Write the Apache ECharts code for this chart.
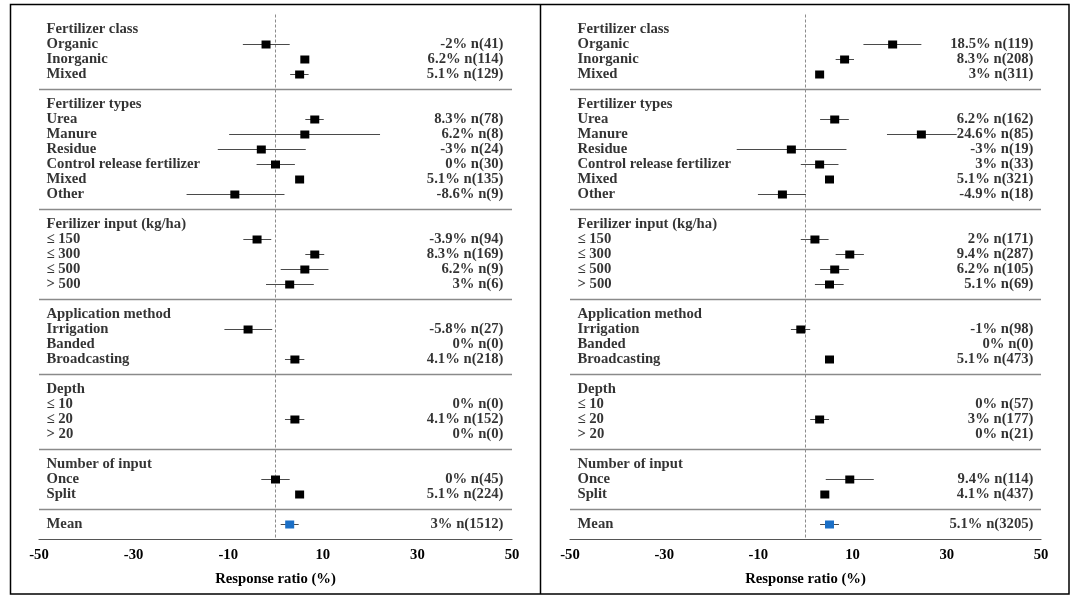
<!DOCTYPE html>
<html>
<head>
<meta charset="utf-8">
<script src="https://cdn.jsdelivr.net/npm/echarts@6/dist/echarts.min.js"></script>
<style>
html,body{margin:0;padding:0;background:#fff;}
#chart{width:1089px;height:597px;}
</style>
</head>
<body>
<div id="chart"></div>
<script>
// Row labels (slot index = row position; '' = group separator)
const rows = ['Fertilizer class','Organic','Inorganic','Mixed','',
  'Fertilizer types','Urea','Manure','Residue','Control release fertilizer','Mixed','Other','',
  'Ferilizer input (kg/ha)','\u2264 150','\u2264 300','\u2264 500','> 500','',
  'Application method','Irrigation','Banded','Broadcasting','',
  'Depth','\u2264 10','\u2264 20','> 20','',
  'Number of input','Once','Split','',
  'Mean'];
const separators = [4, 12, 18, 23, 28, 32];
const meanRow = 33;
const xTickLabels = [-50, -30, -10, 10, 30, 50];

// Left panel
const leftEffect = [null,-2,6.2,5.1,null, null,8.3,6.2,-3,0,5.1,-8.6,null, null,-3.9,8.3,6.2,3,null, null,-5.8,0,4.1,null, null,0,4.1,0,null, null,0,5.1,null, 3];
const leftN      = [null,41,114,129,null, null,78,8,24,30,135,9,null, null,94,169,9,6,null, null,27,0,218,null, null,0,152,0,null, null,45,224,null, 1512];
const leftLow    = [null,-6.9,5.7,3.1,null, null,6.3,-9.8,-12.2,-4.0,4.6,-18.8,null, null,-6.8,6.3,1.1,-2.0,null, null,-10.8,null,2.0,null, null,null,2.0,null,null, null,-3.0,4.6,null, 1.1];
const leftHigh   = [null,3.0,6.7,7.0,null, null,10.2,22.1,6.4,4.1,5.6,1.9,null, null,-0.9,10.3,11.2,8.1,null, null,-0.7,null,6.1,null, null,null,6.1,null,null, null,3.0,5.6,null, 4.9];

// Right panel
const rightEffect = [null,18.5,8.3,3,null, null,6.2,24.6,-3,3,5.1,-4.9,null, null,2,9.4,6.2,5.1,null, null,-1,0,5.1,null, null,0,3,0,null, null,9.4,4.1,null, 5.1];
const rightN      = [null,119,208,311,null, null,162,85,19,33,321,18,null, null,171,287,105,69,null, null,98,0,473,null, null,57,177,21,null, null,114,437,null, 3205];
const rightLow    = [null,12.3,6.4,2.5,null, null,3.1,17.3,-14.6,-1.0,4.6,-10.1,null, null,-1.0,6.4,3.1,2.0,null, null,-3.1,null,4.6,null, null,null,1.0,null,null, null,4.3,3.6,null, 3.1];
const rightHigh   = [null,24.6,10.3,3.5,null, null,9.2,32.1,8.7,7.0,5.6,0.1,null, null,4.9,12.4,9.2,8.1,null, null,1.0,null,5.6,null, null,null,5.0,null,null, null,14.5,4.6,null, 7.1];

const FONT = {fontFamily: 'Liberation Serif', fontWeight: 'bold', fontSize: 14.7, color: '#000'};

function ciData(eff, lo, hi) {
  const out = [];
  for (let i = 0; i < rows.length; i++) {
    if (lo[i] != null && hi[i] != null && eff[i] != null) out.push([i, lo[i], hi[i], eff[i]]);
  }
  return out;
}
function labelData() {
  const out = [];
  rows.forEach((r, i) => { if (r) out.push({value: [-50, i], name: r}); });
  return out;
}
function valueData(eff, n) {
  const out = [];
  for (let i = 0; i < rows.length; i++) {
    if (eff[i] != null) out.push({value: [50, i], name: eff[i] + '% n(' + n[i] + ')'});
  }
  return out;
}

function renderCI(params, api) {
  const y = api.value(0);
  const pLo = api.coord([api.value(1), y]);
  const pHi = api.coord([api.value(2), y]);
  const pE = api.coord([api.value(3), y]);
  const isMean = y === meanRow;
  const w = 9, h = 8;
  return {
    type: 'group',
    children: [
      {type: 'line', shape: {x1: pLo[0], y1: pLo[1], x2: pHi[0], y2: pHi[1]},
       style: {stroke: '#4a4a4a', lineWidth: 1}},
      {type: 'rect', shape: {x: pE[0] - w / 2, y: pE[1] - h / 2, width: w, height: h},
       style: {fill: isMean ? '#1b6fc6' : '#000'}}
    ]
  };
}

function panelSeries(idx, eff, n, lo, hi, valDist) {
  return [
    {
      type: 'custom', xAxisIndex: idx, yAxisIndex: idx,
      renderItem: renderCI,
      encode: {x: [1, 2, 3], y: 0},
      data: ciData(eff, lo, hi),
      z: 5,
      markLine: {
        silent: true, symbol: 'none', animation: false,
        label: {show: false},
        data: separators.map(s => ({yAxis: s, lineStyle: {color: '#8a8a8a', width: 1.3, type: 'solid'}}))
          .concat([{xAxis: 0, lineStyle: {color: '#8c8c8c', width: 1, type: [3, 2]}}])
      }
    },
    {
      type: 'scatter', xAxisIndex: idx, yAxisIndex: idx,
      symbolSize: 1, itemStyle: {color: 'rgba(0,0,0,0)'},
      data: labelData(),
      label: Object.assign({show: true, position: 'right', distance: 7, formatter: p => p.name}, FONT),
      silent: true
    },
    {
      type: 'scatter', xAxisIndex: idx, yAxisIndex: idx,
      symbolSize: 1, itemStyle: {color: 'rgba(0,0,0,0)'},
      data: valueData(eff, n),
      label: Object.assign({show: true, position: 'left', distance: valDist, formatter: p => p.name}, FONT),
      silent: true
    }
  ];
}

function xAxisDef(idx) {
  return {
    type: 'value', gridIndex: idx, min: -50, max: 50, interval: 10,
    splitLine: {show: false},
    axisTick: {show: false},
    axisLine: {onZero: false, lineStyle: {color: '#555', width: 1.2}},
    axisLabel: Object.assign({margin: 8, formatter: v => xTickLabels.indexOf(v) >= 0 ? String(v) : ''}, FONT),
    name: 'Response ratio (%)', nameLocation: 'middle', nameGap: 32,
    nameTextStyle: FONT
  };
}
function yAxisDef(idx) {
  return {type: 'value', gridIndex: idx, min: -1, max: 34, inverse: true, show: false};
}

const chart = echarts.init(document.getElementById('chart'), null, {renderer: 'canvas'});
chart.setOption({
  animation: false,
  backgroundColor: '#fff',
  grid: [
    {left: 39, right: 577, top: 14.5, bottom: 57.5},
    {left: 570, right: 48, top: 14.5, bottom: 57.5}
  ],
  xAxis: [xAxisDef(0), xAxisDef(1)],
  yAxis: [yAxisDef(0), yAxisDef(1)],
  series: panelSeries(0, leftEffect, leftN, leftLow, leftHigh, 8)
    .concat(panelSeries(1, rightEffect, rightN, rightLow, rightHigh, 7)),
  graphic: [
    {type: 'rect', shape: {x: 10.5, y: 4.5, width: 1058.5, height: 589.5},
     style: {fill: 'none', stroke: '#000', lineWidth: 1.5}, silent: true},
    {type: 'line', shape: {x1: 540.5, y1: 4.5, x2: 540.5, y2: 594},
     style: {stroke: '#000', lineWidth: 1.5}, silent: true}
  ]
});
</script>
</body>
</html>
